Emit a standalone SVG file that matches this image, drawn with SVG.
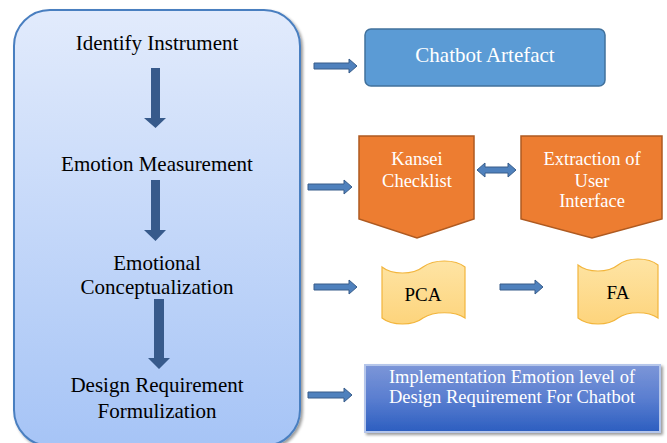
<svg xmlns="http://www.w3.org/2000/svg" width="667" height="443" viewBox="0 0 667 443">
<defs>
<linearGradient id="gLeft" x1="0" y1="0" x2="0" y2="1">
<stop offset="0" stop-color="#e2ebfc"/>
<stop offset="1" stop-color="#a6c4f6"/>
</linearGradient>
<linearGradient id="gImpl" x1="0" y1="0" x2="0" y2="1">
<stop offset="0" stop-color="#7c96d8"/>
<stop offset="0.5" stop-color="#5a7ed0"/>
<stop offset="1" stop-color="#2c5ec0"/>
</linearGradient>
<linearGradient id="gTape" x1="0" y1="0" x2="0" y2="1">
<stop offset="0" stop-color="#fee4a4"/>
<stop offset="1" stop-color="#fdd47c"/>
</linearGradient>
<filter id="sh" x="-10%" y="-10%" width="130%" height="130%">
<feGaussianBlur in="SourceAlpha" stdDeviation="1.5"/>
<feOffset dx="2" dy="2" result="b"/>
<feComponentTransfer><feFuncA type="linear" slope="0.4"/></feComponentTransfer>
<feMerge><feMergeNode/><feMergeNode in="SourceGraphic"/></feMerge>
</filter>
</defs>
<style>
.serif{font-family:"Liberation Serif","Times New Roman",serif;text-anchor:middle}
.dark{fill:#000;font-size:21px}
.white{fill:#fff}
.blk{fill:#4f81bd;stroke:#385d8a;stroke-width:1}
.varr{fill:#375a8b}
.pent{fill:#ed7d31;stroke:#ae5a21;stroke-width:1.5}
.tape{fill:url(#gTape);stroke:#f2b53c;stroke-width:1.2}
</style>

<g id="process">
<rect x="14" y="10" width="286" height="436" rx="36" fill="url(#gLeft)" stroke="#4a7fc0" stroke-width="2" filter="url(#sh)"/>
<text class="serif dark" x="157" y="50">Identify Instrument</text>
<text class="serif dark" x="157" y="171">Emotion Measurement</text>
<text class="serif dark" x="157" y="270">Emotional</text>
<text class="serif dark" x="157" y="294">Conceptualization</text>
<text class="serif dark" x="157" y="392">Design Requirement</text>
<text class="serif dark" x="157" y="418">Formulization</text>
</g>

<g id="chatbot">
<rect x="365" y="29" width="240" height="57" rx="6" fill="#5b9bd5" stroke="#41719c" stroke-width="1.5"/>
<text class="serif white" x="485" y="62" font-size="21">Chatbot Artefact</text>
</g>

<g id="kansei">
<path class="pent" d="M359,136 H474 V219 L417,238 L359,219 Z"/>
<text class="serif white" x="417" y="165" font-size="18.5">Kansei</text>
<text class="serif white" x="417" y="187" font-size="18.5">Checklist</text>
</g>

<g id="extraction">
<path class="pent" d="M521,136 H662 V219 L592,238 L521,219 Z"/>
<text class="serif white" x="592" y="165" font-size="18.5">Extraction of</text>
<text class="serif white" x="592" y="187" font-size="18.5">User</text>
<text class="serif white" x="592" y="207" font-size="18.5">Interface</text>
</g>

<g id="pca">
<path class="tape" d="M382,267 C392,275 413,275 423,267 C434,259 455,259 465,267 V318 C455,311 434,311 423,318 C413,326 392,326 382,318 Z"/>
<text class="serif" x="423" y="301" font-size="19" fill="#000">PCA</text>
</g>

<g id="fa">
<path class="tape" d="M578,265 C588,273 608,273 618,265 C628,257 648,257 658,265 V318 C648,311 628,311 618,318 C608,326 588,326 578,318 Z"/>
<text class="serif" x="618" y="299" font-size="19" fill="#000">FA</text>
</g>

<g id="implementation">
<rect x="365" y="365" width="295" height="67" fill="url(#gImpl)" stroke="#b5c6ea" stroke-width="2" filter="url(#sh)"/>
<text class="serif white" x="512" y="383" font-size="18.5">Implementation Emotion level of</text>
<text class="serif white" x="512" y="403" font-size="18.5">Design Requirement For Chatbot</text>
</g>

<g id="connectors">
<path class="varr" d="M151,68 H160 V118 H166 L155.5,128 L144,118 H151 Z"/>
<path class="varr" d="M151,180 H160 V230 H166 L155.5,241 L144,230 H151 Z"/>
<path class="varr" d="M154,299 H164 V358 H170 L159,369 L148,358 H154 Z"/>
<path class="blk" d="M314,63 H349 V59 L357,66 L349,73 V69 H314 Z"/>
<path class="blk" d="M308,184 H344 V180 L352,187 L344,194 V190 H308 Z"/>
<path class="blk" d="M314,284 H349 V280 L357,287 L349,294 V290 H314 Z"/>
<path class="blk" d="M500,284 H535 V280 L543,287 L535,294 V290 H500 Z"/>
<path class="blk" d="M308,392 H344 V388 L352,395 L344,402 V398 H308 Z"/>
<path class="blk" d="M477,170 L485,163 V167 H508 V163 L516,170 L508,177 V173 H485 V177 Z"/>
</g>
</svg>
